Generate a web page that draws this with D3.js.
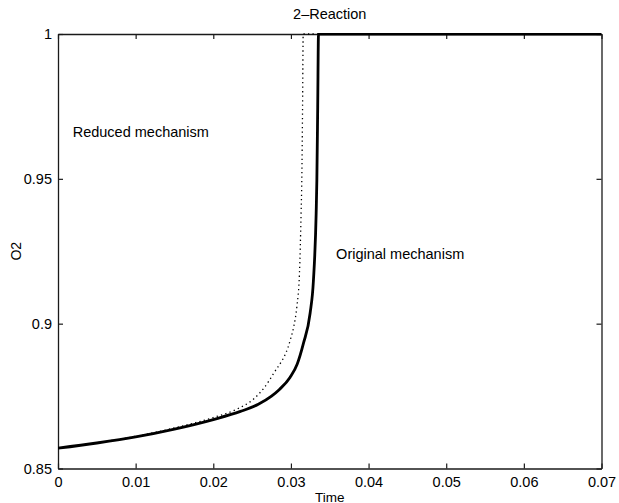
<!DOCTYPE html>
<html>
<head>
<meta charset="utf-8">
<script src="https://cdn.jsdelivr.net/npm/d3@7"></script>
<style>
  html, body { margin: 0; padding: 0; background: #fff; }
  svg text { font-family: "Liberation Sans", Arial, Helvetica, sans-serif; fill: #000; }
</style>
</head>
<body>
<svg id="chart" width="619" height="503"></svg>
<script>
// ---- data ----
const title = "2\u2013Reaction";
const xLabel = "Time";
const yLabel = "O2";
const xTicks = [0, 0.01, 0.02, 0.03, 0.04, 0.05, 0.06, 0.07];
const yTicks = [0.85, 0.9, 0.95, 1];

// Original mechanism (solid)
const originalTime = [0, 0.005, 0.01, 0.015, 0.02, 0.0235, 0.0258, 0.0275, 0.02852, 0.0299, 0.0308, 0.03161, 0.03247, 0.0329, 0.03325, 0.03334, 0.03345, 0.03355, 0.034, 0.04, 0.05, 0.06, 0.07];
const originalO2   = [0.857, 0.8588, 0.8609, 0.8636, 0.8669, 0.8697, 0.8722, 0.875, 0.8773, 0.8815, 0.886, 0.8932, 0.9036, 0.915, 0.9381, 0.9496, 0.975, 1.0, 1.0, 1.0, 1.0, 1.0, 1.0];

// Reduced mechanism (dotted)
const reducedTime = [0, 0.005, 0.01, 0.015, 0.02, 0.0228, 0.0252, 0.0265, 0.02774, 0.0299, 0.0304, 0.03076, 0.0311, 0.03131, 0.0314, 0.0315, 0.03158, 0.032, 0.04, 0.05, 0.06, 0.07];
const reducedO2   = [0.857, 0.8589, 0.8611, 0.864, 0.8676, 0.8702, 0.874, 0.8777, 0.8827, 0.8942, 0.8995, 0.9058, 0.9174, 0.9381, 0.9496, 0.975, 1.0, 1.0, 1.0, 1.0, 1.0, 1.0];

const annotations = [
  { text: "Reduced mechanism", t: 0.00189, v: 0.9644 },
  { text: "Original mechanism", t: 0.03582, v: 0.9223 }
];

// ---- layout ----
const svg = d3.select("#chart");
const mLeft = 58, mRight = 601.5, mTop = 34, mBottom = 468.5;

const x = d3.scaleLinear().domain([0, 0.07]).range([mLeft, mRight]);
const y = d3.scaleLinear().domain([0.85, 1]).range([mBottom, mTop]);

const defs = svg.append("defs");
defs.append("clipPath").attr("id", "clip").append("rect")
  .attr("x", mLeft).attr("y", mTop - 1).attr("width", mRight - mLeft).attr("height", mBottom - mTop + 1);

const fmt = d => d === 0 ? "0" : d3.format("~g")(d);

const gx = svg.append("g").attr("transform", `translate(0,${mBottom})`)
  .call(d3.axisBottom(x).tickValues(xTicks).tickFormat(fmt).tickSizeInner(-5).tickSizeOuter(0).tickPadding(8.5));
const gxTop = svg.append("g").attr("transform", `translate(0,${mTop})`)
  .call(d3.axisTop(x).tickValues(xTicks).tickFormat("").tickSizeInner(-5).tickSizeOuter(0));
const gy = svg.append("g").attr("transform", `translate(${mLeft},0)`)
  .call(d3.axisLeft(y).tickValues(yTicks).tickFormat(fmt).tickSizeInner(-5).tickSizeOuter(0).tickPadding(6));
const gyR = svg.append("g").attr("transform", `translate(${mRight},0)`)
  .call(d3.axisRight(y).tickValues(yTicks).tickFormat("").tickSizeInner(-5).tickSizeOuter(0));

[gx, gxTop, gy, gyR].forEach(g => {
  g.select(".domain").attr("stroke", "#1a1a1a").attr("stroke-width", 1.3);
  g.selectAll(".tick line").attr("stroke", "#1a1a1a").attr("stroke-width", 1.2);
  g.selectAll("text").attr("font-size", 14.5).attr("fill", "#000")
    .style("font-family", "'Liberation Sans', Arial, sans-serif");
});

const line = d3.line().x(d => x(d[0])).y(d => y(d[1])).curve(d3.curveMonotoneX);

const plot = svg.append("g").attr("clip-path", "url(#clip)");
plot.append("path")
  .datum(reducedTime.map((t, i) => [t, reducedO2[i]]))
  .attr("d", line).attr("fill", "none").attr("stroke", "#000")
  .attr("stroke-width", 1.3).attr("stroke-dasharray", "1.3,3.2");
plot.append("path")
  .datum(originalTime.map((t, i) => [t, originalO2[i]]))
  .attr("d", line).attr("fill", "none").attr("stroke", "#000")
  .attr("stroke-width", 2.8);

svg.append("text").attr("x", (mLeft + mRight) / 2).attr("y", 19)
  .attr("text-anchor", "middle").attr("font-size", 14.5).text(title);
svg.append("text").attr("x", (mLeft + mRight) / 2).attr("y", 501.5)
  .attr("text-anchor", "middle").attr("font-size", 13.5).text(xLabel);
svg.append("text").attr("transform", `translate(21,${(mTop + mBottom) / 2}) rotate(-90)`)
  .attr("text-anchor", "middle").attr("font-size", 14).text(yLabel);

svg.selectAll(".annot").data(annotations).enter().append("text")
  .attr("class", "annot")
  .attr("x", d => x(d.t)).attr("y", d => y(d.v))
  .attr("font-size", 14.5).text(d => d.text);
</script>
</body>
</html>
